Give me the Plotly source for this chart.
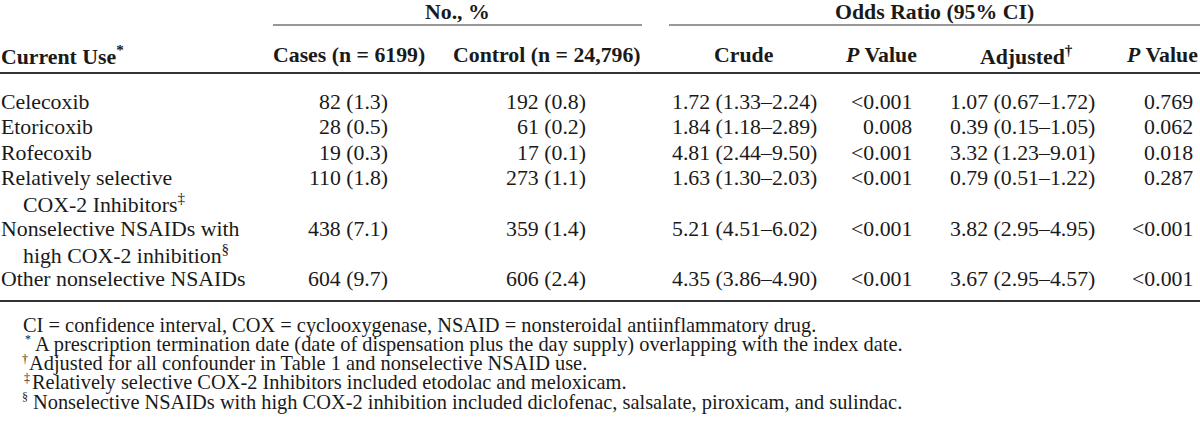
import plotly.graph_objects as go

# ---------------- data ----------------
row_labels = [
    ["Celecoxib"],
    ["Etoricoxib"],
    ["Rofecoxib"],
    ["Relatively selective", "COX-2 Inhibitors<sup>‡</sup>"],
    ["Nonselective NSAIDs with", "high COX-2 inhibition<sup>§</sup>"],
    ["Other nonselective NSAIDs"],
]
cases_n = [82, 28, 19, 110, 438, 604]
cases_pct = [1.3, 0.5, 0.3, 1.8, 7.1, 9.7]
control_n = [192, 61, 17, 273, 359, 606]
control_pct = [0.8, 0.2, 0.1, 1.1, 1.4, 2.4]
crude_or = [1.72, 1.84, 4.81, 1.63, 5.21, 4.35]
crude_lo = [1.33, 1.18, 2.44, 1.30, 4.51, 3.86]
crude_hi = [2.24, 2.89, 9.50, 2.03, 6.02, 4.90]
crude_p = ["<0.001", "0.008", "<0.001", "<0.001", "<0.001", "<0.001"]
adj_or = [1.07, 0.39, 3.32, 0.79, 3.82, 3.67]
adj_lo = [0.67, 0.15, 1.23, 0.51, 2.95, 2.95]
adj_hi = [1.72, 1.05, 9.01, 1.22, 4.95, 4.57]
adj_p = ["0.769", "0.062", "0.018", "0.287", "<0.001", "<0.001"]

group_headers = ["No., %", "Odds Ratio (95% CI)"]
col_headers = ["Current Use<sup>*</sup>", "Cases (n = 6199)", "Control (n = 24,796)",
               "Crude", "<i>P</i> Value", "Adjusted<sup>†</sup>", "<i>P</i> Value"]
footnote_marks = ["", "*", "†", "‡", "§"]
footnotes = [
    "CI = confidence interval, COX = cyclooxygenase, NSAID = nonsteroidal antiinflammatory drug.",
    "A prescription termination date (date of dispensation plus the day supply) overlapping with the index date.",
    "Adjusted for all confounder in Table 1 and nonselective NSAID use.",
    "Relatively selective COX-2 Inhibitors included etodolac and meloxicam.",
    "Nonselective NSAIDs with high COX-2 inhibition included diclofenac, salsalate, piroxicam, and sulindac.",
]

# ---------------- layout constants ----------------
FONT = "Liberation Serif"
BODY = 21.8
FOOT = 20.4
W, H = 1200, 424
INK = "#1a1a1a"

fig = go.Figure()
fig.update_layout(
    width=W, height=H, margin=dict(l=0, r=0, t=0, b=0),
    paper_bgcolor="white", plot_bgcolor="white", showlegend=False,
    xaxis=dict(range=[0, W], visible=False, fixedrange=True),
    yaxis=dict(range=[H, 0], visible=False, fixedrange=True),
)

ann = []
def txt(x, y, s, anchor="left", size=BODY, bold=False):
    if bold:
        s = "<b>" + s + "</b>"
    ann.append(dict(x=x, y=y, xref="x", yref="y", text=s, showarrow=False,
                    xanchor=anchor, yanchor="middle", borderpad=0,
                    font=dict(family=FONT, size=size, color=INK)))

# group headers
txt(457, 12, group_headers[0], "center", bold=True)
txt(934, 12, group_headers[1], "center", bold=True)

# column headers
hdr_x = [0, 349, 547, 744, 881, 1026, 1162]
hdr_anchor = ["left", "center", "center", "center", "center", "center", "center"]
for x, a, s in zip(hdr_x, hdr_anchor, col_headers):
    txt(x, 55, s, a, bold=True)

# body rows
line = 0
y0, dy = 102, 25.3
col_right = [389, 587, 818, 913, 1096, 1194]
for i, lab in enumerate(row_labels):
    y = y0 + dy * line
    txt(0, y, lab[0])
    for k, extra in enumerate(lab[1:], start=1):
        txt(22, y0 + dy * (line + k), extra)
    vals = [
        f"{cases_n[i]} ({cases_pct[i]:.1f})",
        f"{control_n[i]} ({control_pct[i]:.1f})",
        f"{crude_or[i]:.2f} ({crude_lo[i]:.2f}–{crude_hi[i]:.2f})",
        crude_p[i],
        f"{adj_or[i]:.2f} ({adj_lo[i]:.2f}–{adj_hi[i]:.2f})",
        adj_p[i],
    ]
    for x, v in zip(col_right, vals):
        txt(x, y, v, "right")
    line += len(lab)

# footnotes (mark drawn small and raised, text beside it)
text_x = [22, 34, 28, 31, 32]
mark_x = [22, 24, 21, 23, 21]
for j, (m, f) in enumerate(zip(footnote_marks, footnotes)):
    yy = 325 + 19.3 * j
    if m:
        txt(mark_x[j], yy - 5, m, "left", size=12)
    txt(text_x[j], yy, f, "left", size=FOOT)

fig.update_layout(annotations=ann)

# rules
def hline(x0, x1, y, w):
    fig.add_shape(type="line", xref="x", yref="y", x0=x0, x1=x1, y0=y, y1=y,
                  line=dict(color="#333", width=w))
hline(273, 642, 25, 1.2)
hline(669, 1200, 25, 1.2)
hline(0, 1200, 73, 1.8)
hline(0, 1200, 301, 2.0)

fig.write_html(
    "out.html",
    config={"displayModeBar": False, "staticPlot": True},
    post_script="document.body.style.margin='0';document.body.style.overflow='hidden';",
)
